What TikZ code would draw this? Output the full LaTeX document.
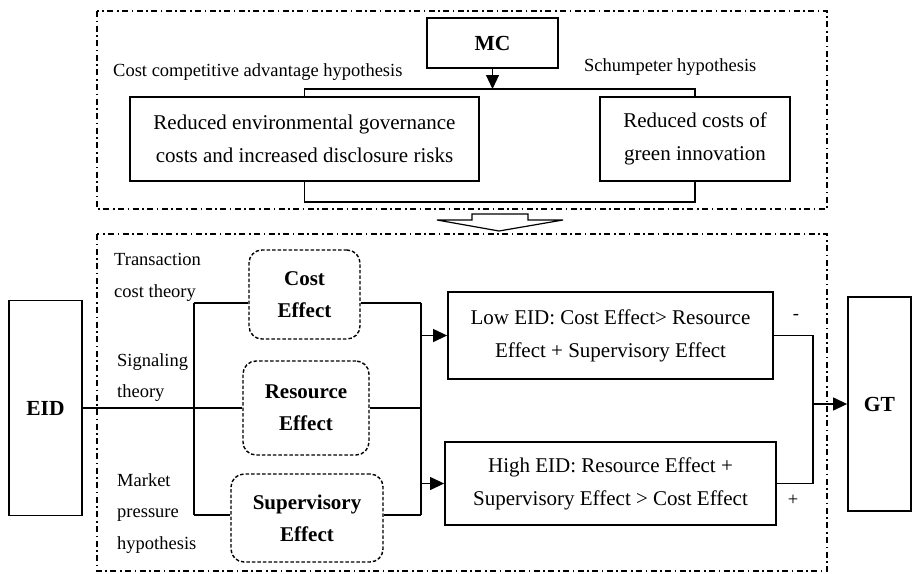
\documentclass[tikz,border=0pt]{standalone}
\usepackage{fontspec}
\setmainfont{Liberation Serif}
\usetikzlibrary{arrows.meta}
\begin{document}
\begin{tikzpicture}[x=1pt,y=-1pt,
  box/.style={draw,line width=1.8pt,inner sep=0pt,align=center,font=\fontsize{21}{33}\selectfont},
  bbox/.style={box,font=\fontsize{21.5}{33}\selectfont\bfseries},
  effbox/.style={draw,dashed,dash pattern=on 3.5pt off 2pt,line width=1.4pt,rounded corners=13pt,inner sep=0pt,align=center,font=\fontsize{21}{32}\selectfont\bfseries},
  frame/.style={draw,line width=1.8pt,dash pattern=on 6pt off 3.5pt on 1.6pt off 3.5pt},
  conn/.style={draw,line width=1.2pt},
  arr/.style={conn,-{Triangle[length=14pt,width=13pt]}},
  lbl/.style={font=\fontsize{18.5}{31.5}\selectfont,align=left,inner sep=0pt,anchor=west},
  sgn/.style={font=\fontsize{18.5}{20}\selectfont,inner sep=0pt}]
\useasboundingbox (0,0) rectangle (912,573);
% top frame
\draw[frame] (97,11) rectangle (827,209);
\node[bbox,minimum width=131pt,minimum height=50pt] (MC) at (492.5,43) {MC};
\node[box,minimum width=349pt,minimum height=84pt] (L1) at (304.5,139) {Reduced environmental governance\\costs and increased disclosure risks};
\node[box,minimum width=190pt,minimum height=84pt] (R1) at (695,139) {Reduced costs of\\green innovation};
\node[lbl] (cca) at (113,72) {Cost competitive advantage hypothesis};
\node[lbl] (sch) at (584,67) {Schumpeter hypothesis};
\coordinate (mcj) at (492.5,89);
\draw[arr] (MC.south) -- (mcj);
\draw[conn] (L1.north) -- (L1.north |- mcj) -- (R1.north |- mcj) -- (R1.north);
\draw[conn] (L1.south) -- ++(0,20) -| (R1.south);
% hollow arrow
\draw[line width=1.2pt,line join=miter] (472,214) -- (528,214) -- (528,220) -- (563,220) -- (499,231) -- (437,220) -- (472,220) -- cycle;
% bottom frame
\draw[frame] (97,234) rectangle (827,571);
\node[bbox,minimum width=73pt,minimum height=215pt] (EID) at (45.5,408) {EID};
\node[effbox,minimum width=111pt,minimum height=89pt] (Cost) at (304.5,294.5) {Cost\\Effect};
\node[effbox,minimum width=126pt,minimum height=94pt] (Res) at (306,408) {Resource\\Effect};
\node[effbox,minimum width=152pt,minimum height=88pt] (Sup) at (307,518) {Supervisory\\Effect};
\node[lbl] (tct) at (114,277.5) {Transaction\\cost theory};
\node[lbl] (sig) at (117,377.5) {Signaling\\theory};
\node[lbl] (mph) at (117,513.5) {Market\\pressure\\hypothesis};
\coordinate (jt) at (194,303);
\coordinate (jb) at (194,515);
\coordinate (rt) at (421,303);
\coordinate (rb) at (421,515);
\draw[conn] (EID.east) -- (Res.west);
\draw[conn] (jt) -- (jb);
\draw[conn] (jt) -- (jt -| Cost.west);
\draw[conn] (jb) -- (jb -| Sup.west);
\draw[conn] (Cost.east |- rt) -- (rt);
\draw[conn] (Res.east) -- (Res.east -| rt);
\draw[conn] (Sup.east |- rb) -- (rb);
\draw[conn] (rt) -- (rb);
\node[box,minimum width=325pt,minimum height=87pt] (Low) at (610.5,335.5) {Low EID: Cost Effect> Resource\\Effect + Supervisory Effect};
\node[box,minimum width=331pt,minimum height=83pt] (High) at (610.5,483.5) {High EID: Resource Effect +\\Supervisory Effect > Cost Effect};
\draw[arr] (rt |- Low.west) -- (Low.west);
\draw[arr] (rt |- High.west) -- (High.west);
\node[bbox,minimum width=63pt,minimum height=214pt] (GT) at (879.5,404) {GT};
\coordinate (rj) at (813,404);
\draw[conn] (Low.east) -- (Low.east -| rj) -- (High.east -| rj) -- (High.east);
\draw[arr] (rj) -- (GT.west);
\node[sgn] (minus) at (796,317) {-};
\node[sgn] (plus) at (793,500) {+};
\end{tikzpicture}
\end{document}
